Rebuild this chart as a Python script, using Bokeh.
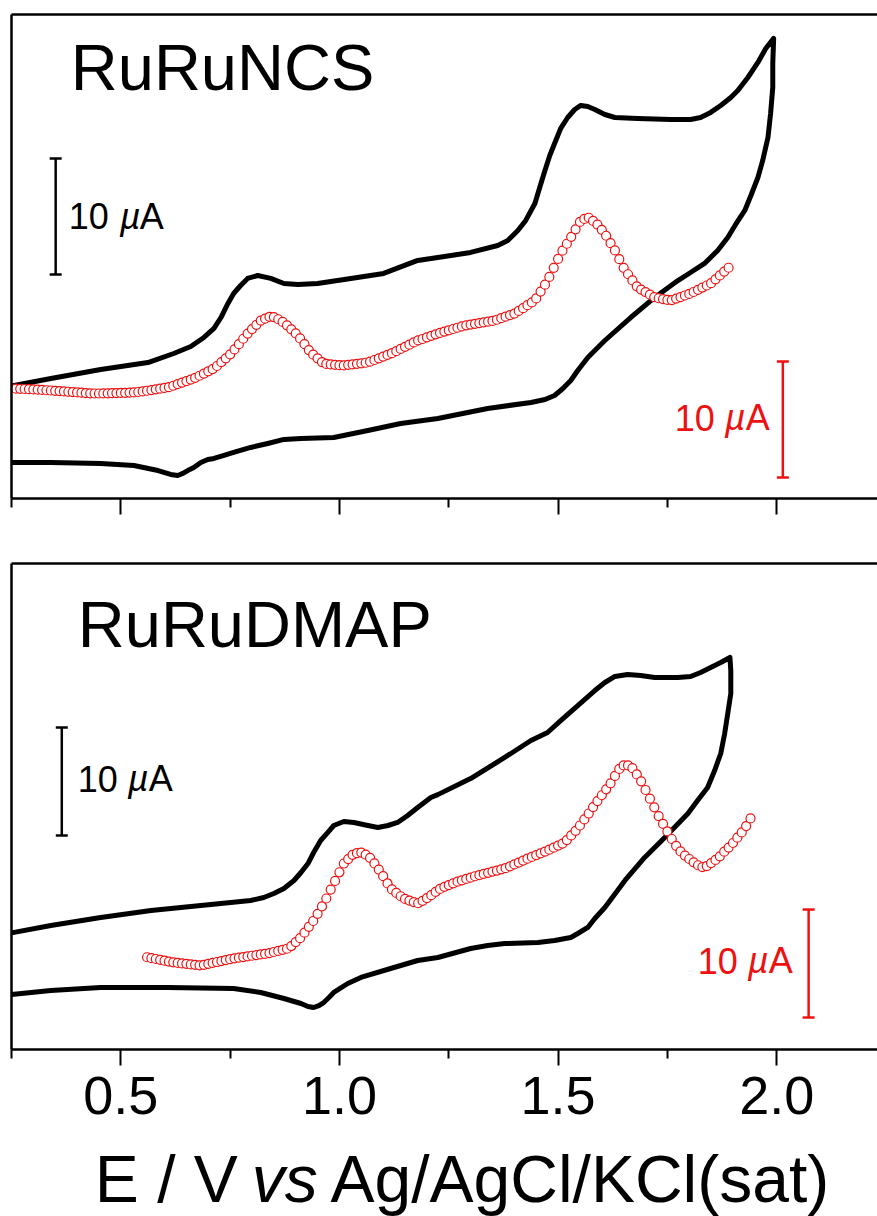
import numpy as np
from bokeh.plotting import figure
from bokeh.models import Range1d, LinearAxis, FixedTicker, NumeralTickFormatter, Label
from bokeh.layouts import column
from bokeh.embed import file_html
from bokeh.resources import INLINE

# ---------------- data ----------------
# Axis ticks (E / V)
major_ticks = [0.5, 1.0, 1.5, 2.0]
minor_ticks = [0.25, 0.75, 1.25, 1.75, 2.25]

# RuRuNCS: cyclic voltammogram (forward then reverse scan), current in uA (arbitrary offset)
ncs_cv_E = [0.25, 0.340, 0.454, 0.562, 0.621, 0.660, 0.690, 0.713, 0.729, 0.745, 0.758, 0.774,
            0.790, 0.813, 0.843, 0.873, 0.905, 0.950, 1.026, 1.101, 1.179, 1.225, 1.300, 1.362,
            1.385, 1.408, 1.426, 1.447, 1.458, 1.470, 1.481, 1.492, 1.506, 1.522, 1.538, 1.552,
            1.568, 1.584, 1.607, 1.630, 1.682, 1.758, 1.803, 1.826, 1.849, 1.872, 1.895, 1.911,
            1.934, 1.957, 1.975, 1.993,
            1.991, 1.991, 1.986, 1.980, 1.968, 1.957, 1.941, 1.927, 1.906, 1.888, 1.865, 1.835,
            1.803, 1.774, 1.721, 1.666, 1.607, 1.568, 1.545, 1.529, 1.511, 1.492, 1.470, 1.438,
            1.339, 1.225, 1.140, 1.065, 0.987, 0.912, 0.873, 0.836, 0.797, 0.758, 0.736, 0.713,
            0.699, 0.683, 0.667, 0.653, 0.642, 0.630, 0.614, 0.585, 0.530, 0.454, 0.340, 0.25]
ncs_cv_I = [9.70, 10.34, 11.12, 11.72, 12.50, 13.10, 13.88, 14.66, 15.60, 16.81, 17.67, 18.36,
            18.97, 19.22, 18.97, 18.53, 18.45, 18.53, 18.97, 19.40, 20.52, 20.78, 21.21, 21.81,
            22.24, 23.10, 23.97, 25.43, 26.81, 28.28, 29.57, 30.60, 31.90, 32.84, 33.53, 33.88,
            33.79, 33.53, 33.10, 32.84, 32.76, 32.67, 32.67, 32.84, 33.28, 33.88, 34.57, 35.17,
            36.29, 37.59, 38.79, 39.66,
            37.50, 35.43, 33.19, 31.12, 29.14, 27.67, 26.12, 24.83, 23.62, 22.50, 21.38, 20.26,
            19.48, 18.79, 17.33, 15.60, 13.62, 12.16, 11.03, 10.17, 9.48, 8.88, 8.53, 8.28,
            7.76, 6.90, 6.47, 5.86, 5.26, 5.17, 5.09, 4.74, 4.40, 3.97, 3.71, 3.45,
            3.36, 3.10, 2.67, 2.41, 2.16, 1.98, 2.07, 2.41, 2.84, 3.02, 3.10, 3.10]

# RuRuNCS: differential pulse voltammogram, 0.26 ... 1.89 V in 0.01 V steps
ncs_dpv_E0 = 0.26
ncs_dpv_I = [9.47, 9.45, 9.44, 9.42, 9.40, 9.38, 9.36, 9.33, 9.31, 9.28,
             9.26, 9.23, 9.20, 9.17, 9.14, 9.12, 9.09, 9.07, 9.05, 9.05,
             9.06, 9.07, 9.08, 9.09, 9.10, 9.11, 9.13, 9.14, 9.18, 9.23,
             9.29, 9.35, 9.41, 9.47, 9.53, 9.60, 9.72, 9.86, 9.99, 10.12,
             10.25, 10.40, 10.58, 10.77, 10.96, 11.15, 11.42, 11.75, 12.08, 12.42,
             12.85, 13.30, 13.77, 14.22, 14.60, 14.97, 15.34, 15.50, 15.66, 15.64,
             15.45, 15.22, 14.93, 14.58, 14.23, 13.80, 13.30, 12.79, 12.40, 12.08,
             11.76, 11.60, 11.56, 11.52, 11.49, 11.47, 11.52, 11.56, 11.61, 11.65,
             11.70, 11.79, 11.94, 12.08, 12.23, 12.38, 12.53, 12.70, 12.89, 13.07,
             13.26, 13.45, 13.63, 13.75, 13.89, 14.02, 14.15, 14.27, 14.39, 14.50,
             14.61, 14.72, 14.83, 14.93, 14.99, 15.06, 15.12, 15.18, 15.24, 15.31,
             15.41, 15.54, 15.67, 15.81, 15.94, 16.17, 16.41, 16.66, 16.90, 17.25,
             17.84, 18.43, 19.10, 19.88, 20.65, 21.36, 21.96, 22.56, 23.20, 23.84,
             24.10, 24.20, 23.93, 23.61, 23.16, 22.65, 22.01, 21.38, 20.63, 19.88,
             19.33, 18.80, 18.29, 18.01, 17.79, 17.57, 17.35, 17.26, 17.19, 17.12,
             17.10, 17.23, 17.36, 17.50, 17.63, 17.80, 17.99, 18.18, 18.36, 18.56,
             18.89, 19.23, 19.56, 19.89]

# RuRuDMAP: cyclic voltammogram (forward then reverse scan)
dmap_cv_E = [0.25, 0.340, 0.454, 0.569, 0.683, 0.797, 0.827, 0.850, 0.873, 0.896, 0.912, 0.928,
             0.941, 0.957, 0.973, 0.987, 1.010, 1.033, 1.065, 1.088, 1.111, 1.133, 1.156, 1.179,
             1.209, 1.225, 1.300, 1.378, 1.438, 1.476, 1.506, 1.545, 1.584, 1.607, 1.630, 1.659,
             1.689, 1.721, 1.774, 1.803, 1.826, 1.849, 1.872, 1.893,
             1.895, 1.895, 1.888, 1.881, 1.872, 1.858, 1.842, 1.819, 1.797, 1.744, 1.698, 1.653,
             1.607, 1.584, 1.568, 1.545, 1.529, 1.492, 1.454, 1.378, 1.339, 1.300, 1.225, 1.179,
             1.117, 1.049, 1.019, 0.987, 0.976, 0.964, 0.953, 0.941, 0.928, 0.912, 0.873, 0.820,
             0.758, 0.607, 0.454, 0.340, 0.25]
dmap_cv_I = [10.80, 11.48, 12.22, 12.87, 13.33, 13.80, 14.07, 14.44, 14.91, 15.65, 16.39, 17.22,
             18.24, 19.35, 20.09, 20.74, 21.11, 21.02, 20.74, 20.56, 20.74, 21.02, 21.67, 22.41,
             23.33, 23.60, 25.09, 27.04, 28.61, 29.35, 30.46, 31.85, 33.24, 33.98, 34.54, 34.72,
             34.63, 34.44, 34.44, 34.54, 34.91, 35.37, 35.83, 36.30,
             35.09, 32.96, 31.11, 29.26, 27.41, 25.83, 24.26, 23.06, 21.85, 19.63, 17.78, 15.65,
             13.15, 12.13, 11.30, 10.74, 10.37, 10.09, 9.91, 9.81, 9.63, 9.35, 8.52, 8.24,
             7.50, 6.67, 6.11, 5.28, 4.81, 4.35, 4.07, 3.89, 3.98, 4.26, 4.72, 5.28,
             5.65, 5.74, 5.74, 5.46, 5.09]

# RuRuDMAP: differential pulse voltammogram, 0.56 ... 1.94 V in 0.01 V steps
dmap_dpv_E0 = 0.56
dmap_dpv_I = [8.54, 8.46, 8.38, 8.30, 8.22, 8.14, 8.07, 8.02, 7.97, 7.93,
              7.88, 7.84, 7.79, 7.84, 7.93, 8.02, 8.10, 8.19, 8.28, 8.36,
              8.44, 8.50, 8.56, 8.62, 8.68, 8.74, 8.80, 8.85, 8.93, 9.03,
              9.13, 9.23, 9.33, 9.58, 9.95, 10.31, 10.82, 11.36, 11.90, 12.56,
              13.25, 13.98, 14.81, 15.61, 16.41, 17.22, 17.63, 18.03, 18.18, 18.23,
              18.04, 17.75, 17.23, 16.66, 16.05, 15.38, 14.82, 14.50, 14.19, 13.94,
              13.79, 13.65, 13.54, 13.77, 14.02, 14.29, 14.59, 14.87, 15.06, 15.22,
              15.39, 15.54, 15.66, 15.79, 15.91, 16.04, 16.15, 16.26, 16.36, 16.47,
              16.57, 16.68, 16.79, 16.96, 17.14, 17.31, 17.49, 17.67, 17.83, 18.00,
              18.16, 18.33, 18.50, 18.69, 18.88, 19.07, 19.39, 19.82, 20.25, 20.74,
              21.30, 21.85, 22.45, 23.00, 23.54, 24.09, 24.65, 25.33, 25.98, 26.30,
              26.30, 26.05, 25.47, 24.83, 24.03, 23.22, 22.42, 21.61, 20.90, 20.19,
              19.49, 18.86, 18.34, 17.96, 17.64, 17.33, 17.06, 16.89, 16.98, 17.26,
              17.55, 17.89, 18.32, 18.70, 19.12, 19.61, 20.10, 20.69, 21.40]

ncs_dpv_E = np.round(ncs_dpv_E0 + 0.01 * np.arange(len(ncs_dpv_I)), 2)
dmap_dpv_E = np.round(dmap_dpv_E0 + 0.01 * np.arange(len(dmap_dpv_I)), 2)

# ---------------- style ----------------
FONT = "Liberation Sans"
RED = "#EE1111"
SCALE_UA = 10.0

x_range = Range1d(0.25, 2.2305)


def make_panel(height, border_top, border_bottom, y_top, show_labels):
    p = figure(width=877, height=height, x_range=x_range, y_range=Range1d(0, y_top),
               output_backend="svg", toolbar_location=None,
               x_axis_location=None, y_axis_location=None,
               min_border_left=11, min_border_right=0,
               min_border_top=border_top, min_border_bottom=border_bottom)
    p.outline_line_color = None
    p.grid.visible = False
    p.background_fill_color = "white"
    p.border_fill_color = "white"

    bottom = LinearAxis(ticker=FixedTicker(ticks=major_ticks, minor_ticks=minor_ticks),
                        formatter=NumeralTickFormatter(format="0.0"),
                        axis_line_width=2.5, axis_line_color="black",
                        major_tick_line_width=2, minor_tick_line_width=2,
                        major_tick_out=16, major_tick_in=0,
                        minor_tick_out=9, minor_tick_in=0)
    if show_labels:
        bottom.major_label_text_font = FONT
        bottom.major_label_text_font_size = "54px"
        bottom.major_label_text_color = "black"
        bottom.major_label_standoff = 11
    else:
        bottom.major_label_overrides = {t: "" for t in major_ticks}
        bottom.major_label_text_font_size = "1px"
        bottom.major_label_standoff = 0
    p.add_layout(bottom, "below")

    for place in ("left", "above"):
        ax = LinearAxis(ticker=FixedTicker(ticks=[]), axis_line_width=2.5,
                        axis_line_color="black",
                        major_tick_line_color=None, minor_tick_line_color=None,
                        major_tick_out=0, minor_tick_out=0, major_label_standoff=0,
                        major_label_text_font_size="1px")
        p.add_layout(ax, place)
    return p


def scale_bar(p, x, y0, color):
    cap = 0.0137
    p.segment(x0=[x, x - cap, x - cap], y0=[y0, y0, y0 + SCALE_UA],
              x1=[x, x + cap, x + cap], y1=[y0 + SCALE_UA, y0, y0 + SCALE_UA],
              line_color=color, line_width=2.5)


def ua_label(p, x_ten, x_mu, x_a, y, color):
    for txt, xx, style in (("10", x_ten, "normal"), ("\u00b5", x_mu, "italic"), ("A", x_a, "normal")):
        p.add_layout(Label(x=xx, y=y, text=txt, text_font=FONT, text_font_size="36px",
                           text_font_style=style, text_color=color,
                           text_baseline="alphabetic", text_align="left"))


# ---------------- top panel: RuRuNCS ----------------
p1 = make_panel(530, 14, 32, 41.72, False)
p1.line(ncs_cv_E, ncs_cv_I, line_color="black", line_width=5, line_join="round")
p1.scatter(ncs_dpv_E, ncs_dpv_I, marker="circle", size=9, line_color=RED,
           fill_color="white", line_width=1.2)
p1.add_layout(Label(x=0.3857, y=37.15, text="RuRuNCS", text_font=FONT, text_font_size="65px",
                    text_color="black", text_baseline="alphabetic"))
scale_bar(p1, 0.351, 19.31, "black")
ua_label(p1, 0.3811, 0.4977, 0.5434, 24.31, "black")
scale_bar(p1, 2.014, 1.81, RED)
ua_label(p1, 1.7669, 1.8812, 1.9292, 6.98, RED)

# ---------------- bottom panel: RuRuDMAP ----------------
p2 = make_panel(609, 33, 90, 45.0, True)
p2.line(dmap_cv_E, dmap_cv_I, line_color="black", line_width=5, line_join="round")
p2.scatter(dmap_dpv_E, dmap_dpv_I, marker="circle", size=9, line_color=RED,
           fill_color="white", line_width=1.2)
p2.add_layout(Label(x=0.4017, y=39.35, text="RuRuDMAP", text_font=FONT, text_font_size="65px",
                    text_color="black", text_baseline="alphabetic"))
scale_bar(p2, 0.365, 19.81, "black")
ua_label(p2, 0.4017, 0.5160, 0.5640, 25.09, "black")
scale_bar(p2, 2.073, 2.96, RED)
ua_label(p2, 1.8194, 1.9338, 1.9818, 8.24, RED)

# ---------------- x-axis title strip (italic "vs") ----------------
p3 = figure(width=877, height=77, x_range=x_range, y_range=Range1d(0, 77),
            output_backend="svg", toolbar_location=None,
            x_axis_location=None, y_axis_location=None,
            min_border=0, min_border_left=11, min_border_right=0)
p3.outline_line_color = None
p3.grid.visible = False
for txt, xx, style in (("E / V", 0.4405, "normal"), ("vs", 0.7995, "italic"),
                       ("Ag/AgCl/KCl(sat)", 0.9795, "normal")):
    p3.add_layout(Label(x=xx, y=38, text=txt, text_font=FONT, text_font_size="66px",
                        text_font_style=style, text_color="black",
                        text_baseline="alphabetic", text_align="left"))

layout = column(p1, p2, p3, spacing=0)
open("out.html", "w").write(file_html(layout, INLINE, title="RuRu voltammograms"))
